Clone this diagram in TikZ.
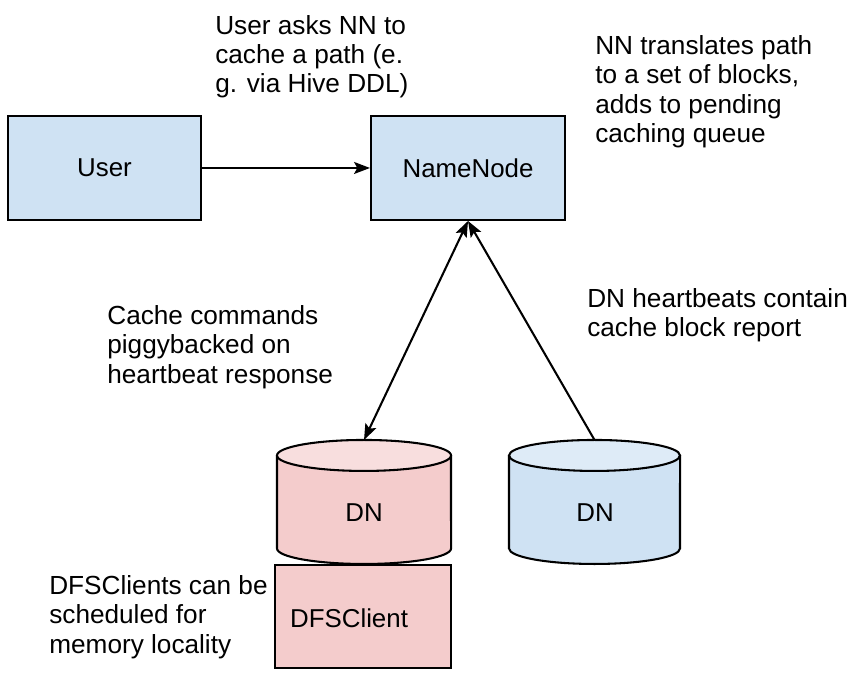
\documentclass[tikz,border=0pt]{standalone}
\usepackage{fontspec}
\setmainfont{Liberation Sans}
\usetikzlibrary{arrows.meta}
\definecolor{boxblue}{HTML}{CFE2F3}
\definecolor{capblue}{HTML}{DEEBF7}
\definecolor{boxred}{HTML}{F4CCCC}
\definecolor{capred}{HTML}{F8DEDE}
\tikzset{
  box/.style={draw=black, line width=1.3pt, inner sep=0pt, font=\fontsize{16.3}{19}\selectfont},
  bluebox/.style={box, fill=boxblue},
  redbox/.style={box, fill=boxred},
  drum/.style={draw=black, line width=1.3pt},
  drumlabel/.style={inner sep=0pt, font=\fontsize{16.3}{19}\selectfont},
  note/.style={anchor=north west, inner sep=0pt, align=left, font=\fontsize{16.5}{18.5}\selectfont},
  link/.style={line width=1.3pt, >={Stealth[length=10pt,width=7.5pt,inset=2pt]}},
}

\begin{document}
\begin{tikzpicture}
\useasboundingbox (0,0) rectangle (19.0,15.014);
% boxes
\node[bluebox, minimum width=4.274cm, minimum height=2.303cm] (user) at (2.314,11.294) {User};
\node[bluebox, minimum width=4.296cm, minimum height=2.303cm] (nn) at (10.364,11.294) {NameNode};
\node[redbox, minimum width=3.897cm, minimum height=2.281cm] (clientbox) at (8.039,1.362) {};
\node[drumlabel] (client) at (7.729,1.318) {DFSClient};
% data nodes
\draw[drum, fill=boxred] (6.134,4.928) -- (6.134,2.868) arc[start angle=180, end angle=360, x radius=1.927, y radius=0.343] -- (9.987,4.928);
\draw[drum, fill=capred] (8.061,4.928) ellipse [x radius=1.927, y radius=0.343];
\draw[drum, fill=boxblue] (11.272,4.928) -- (11.272,2.868) arc[start angle=180, end angle=360, x radius=1.893, y radius=0.343] -- (15.059,4.928);
\draw[drum, fill=capblue] (13.165,4.928) ellipse [x radius=1.893, y radius=0.343];
\node[drumlabel] (dnred) at (8.061,3.665) {DN};
\node[drumlabel] (dnblue) at (13.176,3.665) {DN};
\coordinate (dnredtop) at (8.061,5.271);
\coordinate (dnbluetop) at (13.165,5.271);
% arrows
\draw[link, ->] (user) -- (nn);
\draw[link, <->] (nn.south) -- (dnredtop);
\draw[link, ->] (dnbluetop) -- (nn.south);
% notes
\node[note] (asknote) at (4.761,14.682) {User asks NN to\\cache a path (e.\\g. via Hive DDL)};
\node[note] (queuenote) at (13.176,14.239) {NN translates path\\to a set of blocks,\\adds to pending\\caching queue};
\node[note] (cmdnote) at (2.370,8.260) {Cache commands\\piggybacked on\\heartbeat response};
\node[note] (hbnote) at (12.999,8.637) {DN heartbeats contain\\cache block report};
\node[note] (clientnote) at (1.085,2.281) {DFSClients can be\\scheduled for\\memory locality};
\end{tikzpicture}
\end{document}
